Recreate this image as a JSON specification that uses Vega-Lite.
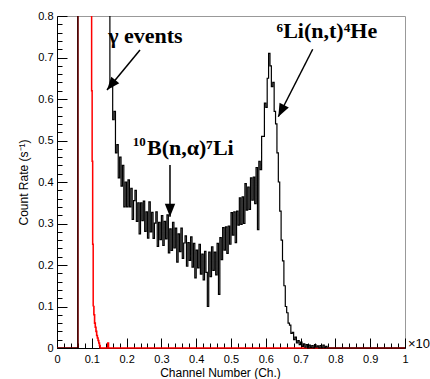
{
  "$schema": "https://vega.github.io/schema/vega-lite/v6.json",
  "width": 348,
  "height": 332,
  "autosize": {"type": "none"},
  "padding": {"left": 57, "top": 16, "right": 25, "bottom": 31},
  "background": "white",
  "view": {"stroke": "#999", "strokeWidth": 1},
  "config": {"font": "Liberation Sans"},
  "datasets": {
    "red": [
      {"ch": 0, "rate": 0}, {"ch": 0.06, "rate": 2}, {"ch": 0.0995, "rate": 0.62}, {"ch": 0.101, "rate": 0.45},
      {"ch": 0.1025, "rate": 0.25}, {"ch": 0.104, "rate": 0.1}, {"ch": 0.106, "rate": 0.08}, {"ch": 0.108, "rate": 0.06},
      {"ch": 0.11, "rate": 0.05}, {"ch": 0.112, "rate": 0.04}, {"ch": 0.114, "rate": 0.03}, {"ch": 0.116, "rate": 0.024},
      {"ch": 0.118, "rate": 0.018}, {"ch": 0.12, "rate": 0.012}, {"ch": 0.122, "rate": 0.006}, {"ch": 0.124, "rate": 0},
      {"ch": 0.146, "rate": 0.012}, {"ch": 0.148, "rate": 0}, {"ch": 1.0, "rate": 0}
    ],
    "black": [
      {"ch": 0, "rate": 0}, {"ch": 0.06, "rate": 2},
      {"ch": 0.152, "rate": 0.63}, {"ch": 0.156, "rate": 0.63}, {"ch": 0.16, "rate": 0.55}, {"ch": 0.164, "rate": 0.57},
      {"ch": 0.168, "rate": 0.47}, {"ch": 0.172, "rate": 0.49}, {"ch": 0.176, "rate": 0.41}, {"ch": 0.18, "rate": 0.46},
      {"ch": 0.184, "rate": 0.39}, {"ch": 0.188, "rate": 0.44}, {"ch": 0.192, "rate": 0.34}, {"ch": 0.196, "rate": 0.4},
      {"ch": 0.2, "rate": 0.34}, {"ch": 0.204, "rate": 0.405}, {"ch": 0.208, "rate": 0.34}, {"ch": 0.212, "rate": 0.385},
      {"ch": 0.216, "rate": 0.31}, {"ch": 0.22, "rate": 0.355}, {"ch": 0.224, "rate": 0.38}, {"ch": 0.228, "rate": 0.305},
      {"ch": 0.232, "rate": 0.35}, {"ch": 0.236, "rate": 0.275}, {"ch": 0.24, "rate": 0.35}, {"ch": 0.244, "rate": 0.307},
      {"ch": 0.248, "rate": 0.354}, {"ch": 0.252, "rate": 0.281}, {"ch": 0.256, "rate": 0.328}, {"ch": 0.26, "rate": 0.265},
      {"ch": 0.264, "rate": 0.352}, {"ch": 0.268, "rate": 0.28}, {"ch": 0.272, "rate": 0.327}, {"ch": 0.276, "rate": 0.264},
      {"ch": 0.28, "rate": 0.301}, {"ch": 0.284, "rate": 0.328}, {"ch": 0.288, "rate": 0.245}, {"ch": 0.292, "rate": 0.303},
      {"ch": 0.296, "rate": 0.261}, {"ch": 0.3, "rate": 0.319}, {"ch": 0.304, "rate": 0.247}, {"ch": 0.308, "rate": 0.305},
      {"ch": 0.312, "rate": 0.263}, {"ch": 0.316, "rate": 0.321}, {"ch": 0.32, "rate": 0.229}, {"ch": 0.324, "rate": 0.287},
      {"ch": 0.328, "rate": 0.235}, {"ch": 0.332, "rate": 0.303}, {"ch": 0.336, "rate": 0.241}, {"ch": 0.34, "rate": 0.289},
      {"ch": 0.344, "rate": 0.207}, {"ch": 0.348, "rate": 0.275}, {"ch": 0.352, "rate": 0.232}, {"ch": 0.356, "rate": 0.289},
      {"ch": 0.36, "rate": 0.216}, {"ch": 0.364, "rate": 0.253}, {"ch": 0.368, "rate": 0.27}, {"ch": 0.372, "rate": 0.197},
      {"ch": 0.376, "rate": 0.254}, {"ch": 0.38, "rate": 0.211}, {"ch": 0.384, "rate": 0.268}, {"ch": 0.388, "rate": 0.195},
      {"ch": 0.392, "rate": 0.252}, {"ch": 0.396, "rate": 0.169}, {"ch": 0.4, "rate": 0.236}, {"ch": 0.404, "rate": 0.193},
      {"ch": 0.408, "rate": 0.25}, {"ch": 0.412, "rate": 0.178}, {"ch": 0.416, "rate": 0.226}, {"ch": 0.42, "rate": 0.164},
      {"ch": 0.424, "rate": 0.233}, {"ch": 0.428, "rate": 0.182}, {"ch": 0.432, "rate": 0.1}, {"ch": 0.436, "rate": 0.231},
      {"ch": 0.44, "rate": 0.172}, {"ch": 0.444, "rate": 0.244}, {"ch": 0.448, "rate": 0.187}, {"ch": 0.452, "rate": 0.231},
      {"ch": 0.456, "rate": 0.176}, {"ch": 0.46, "rate": 0.252}, {"ch": 0.464, "rate": 0.129}, {"ch": 0.468, "rate": 0.266},
      {"ch": 0.472, "rate": 0.213}, {"ch": 0.476, "rate": 0.29}, {"ch": 0.48, "rate": 0.236}, {"ch": 0.484, "rate": 0.292},
      {"ch": 0.488, "rate": 0.228}, {"ch": 0.492, "rate": 0.294}, {"ch": 0.496, "rate": 0.25}, {"ch": 0.5, "rate": 0.326},
      {"ch": 0.504, "rate": 0.272}, {"ch": 0.508, "rate": 0.328}, {"ch": 0.512, "rate": 0.254}, {"ch": 0.516, "rate": 0.33},
      {"ch": 0.52, "rate": 0.296}, {"ch": 0.524, "rate": 0.362}, {"ch": 0.528, "rate": 0.298}, {"ch": 0.532, "rate": 0.364},
      {"ch": 0.536, "rate": 0.3}, {"ch": 0.54, "rate": 0.396}, {"ch": 0.544, "rate": 0.332}, {"ch": 0.548, "rate": 0.388},
      {"ch": 0.552, "rate": 0.334}, {"ch": 0.556, "rate": 0.41}, {"ch": 0.56, "rate": 0.356}, {"ch": 0.564, "rate": 0.412},
      {"ch": 0.568, "rate": 0.348}, {"ch": 0.572, "rate": 0.435}, {"ch": 0.576, "rate": 0.285}, {"ch": 0.58, "rate": 0.45},
      {"ch": 0.584, "rate": 0.43}, {"ch": 0.588, "rate": 0.51}, {"ch": 0.592, "rate": 0.51}, {"ch": 0.596, "rate": 0.59},
      {"ch": 0.6, "rate": 0.58}, {"ch": 0.604, "rate": 0.65}, {"ch": 0.608, "rate": 0.71}, {"ch": 0.612, "rate": 0.68},
      {"ch": 0.616, "rate": 0.63}, {"ch": 0.62, "rate": 0.64}, {"ch": 0.624, "rate": 0.57}, {"ch": 0.628, "rate": 0.54},
      {"ch": 0.632, "rate": 0.47}, {"ch": 0.636, "rate": 0.4}, {"ch": 0.64, "rate": 0.33}, {"ch": 0.644, "rate": 0.26},
      {"ch": 0.648, "rate": 0.21}, {"ch": 0.652, "rate": 0.15}, {"ch": 0.656, "rate": 0.1}, {"ch": 0.66, "rate": 0.085},
      {"ch": 0.664, "rate": 0.06}, {"ch": 0.668, "rate": 0.055}, {"ch": 0.672, "rate": 0.035}, {"ch": 0.676, "rate": 0.038},
      {"ch": 0.68, "rate": 0.02}, {"ch": 0.684, "rate": 0.026}, {"ch": 0.688, "rate": 0.012}, {"ch": 0.692, "rate": 0.018},
      {"ch": 0.696, "rate": 0.008}, {"ch": 0.7, "rate": 0.014}, {"ch": 0.704, "rate": 0.004}, {"ch": 0.708, "rate": 0.01},
      {"ch": 0.712, "rate": 0.002}, {"ch": 0.716, "rate": 0.008}, {"ch": 0.72, "rate": 0}, {"ch": 0.724, "rate": 0.007},
      {"ch": 0.728, "rate": 0.001}, {"ch": 0.732, "rate": 0.006}, {"ch": 0.736, "rate": 0}, {"ch": 0.74, "rate": 0.008},
      {"ch": 0.744, "rate": 0.002}, {"ch": 0.748, "rate": 0.005}, {"ch": 0.752, "rate": 0}, {"ch": 0.756, "rate": 0.006},
      {"ch": 0.76, "rate": 0}, {"ch": 0.764, "rate": 0.007}, {"ch": 0.768, "rate": 0}, {"ch": 0.772, "rate": 0.004},
      {"ch": 0.776, "rate": 0}, {"ch": 1.0, "rate": 0}
    ],
    "labels": [
      {"ch": 0.147, "rate": 0.735, "label": "γ events"},
      {"ch": 0.631, "rate": 0.747, "label": "⁶Li(n,t)⁴He"},
      {"ch": 0.2586, "rate": 0.465, "label": "B(n,α)⁷Li"}
    ],
    "sups": [
      {"ch": 0.218, "rate": 0.487, "label": "10"}
    ],
    "arrows": [
      {"ch": 0.2385, "rate": 0.718, "ch2": 0.1437, "rate2": 0.6217, "dir": 219.5},
      {"ch": 0.7348, "rate": 0.7198, "ch2": 0.6359, "rate2": 0.5573, "dir": 206.9},
      {"ch": 0.3247, "rate": 0.441, "ch2": 0.3247, "rate2": 0.3164, "dir": 180}
    ],
    "unit": [{"ch": 1.0, "rate": 0, "label": "×10³"}]
  },
  "encoding": {
    "x": {
      "field": "ch", "type": "quantitative",
      "scale": {"domain": [0, 1], "nice": false, "zero": false},
      "axis": {
        "title": "Channel Number (Ch.)",
        "zindex": 0,
        "values": [0,0.02,0.04,0.06,0.08,0.1,0.12,0.14,0.16,0.18,0.2,0.22,0.24,0.26,0.28,0.3,0.32,0.34,0.36,0.38,0.4,0.42,0.44,0.46,0.48,0.5,0.52,0.54,0.56,0.58,0.6,0.62,0.64,0.66,0.68,0.7,0.72,0.74,0.76,0.78,0.8,0.82,0.84,0.86,0.88,0.9,0.92,0.94,0.96,0.98,1],
        "labelExpr": "abs(datum.value*10 - round(datum.value*10)) < 0.001 ? format(datum.value, '~g') : ''",
        "tickSize": {"condition": {"test": "abs(datum.value*10 - round(datum.value*10)) < 0.001", "value": -10}, "value": -5},
        "tickColor": "#000", "tickWidth": 1,
        "domainColor": "#000", "domainWidth": 1,
        "grid": false,
        "labelOverlap": false, "labelFlush": false, "labelBound": false,
        "labelFontSize": 11, "labelColor": "#000", "labelPadding": 15,
        "titleFontSize": 12, "titleFontWeight": "normal", "titleColor": "#000",
        "titleX": 163, "titleY": 28, "titleAlign": "center", "titleBaseline": "alphabetic", "titleAnchor": null
      }
    },
    "y": {
      "field": "rate", "type": "quantitative",
      "scale": {"domain": [0, 0.8], "nice": false},
      "axis": {
        "title": "Count Rate (s⁻¹)",
        "zindex": 0,
        "values": [0,0.02,0.04,0.06,0.08,0.1,0.12,0.14,0.16,0.18,0.2,0.22,0.24,0.26,0.28,0.3,0.32,0.34,0.36,0.38,0.4,0.42,0.44,0.46,0.48,0.5,0.52,0.54,0.56,0.58,0.6,0.62,0.64,0.66,0.68,0.7,0.72,0.74,0.76,0.78,0.8],
        "labelExpr": "abs(datum.value*10 - round(datum.value*10)) < 0.001 ? format(datum.value, '~g') : ''",
        "tickSize": {"condition": {"test": "abs(datum.value*10 - round(datum.value*10)) < 0.001", "value": -10}, "value": -5},
        "tickColor": "#000", "tickWidth": 1,
        "domainColor": "#000", "domainWidth": 1,
        "grid": false,
        "labelOverlap": false, "labelFlush": false, "labelBound": false,
        "labelFontSize": 11, "labelColor": "#000", "labelPadding": 14,
        "titleFontSize": 12, "titleFontWeight": "normal", "titleColor": "#000",
        "titleX": -30, "titleY": 166, "titleAlign": "center", "titleBaseline": "alphabetic", "titleAnchor": null
      }
    }
  },
  "layer": [
    {"data": {"name": "red"}, "transform": [{"filter": "datum.ch <= 0.104"}],
     "mark": {"type": "line", "interpolate": "step-after", "color": "#ff0000", "strokeWidth": 1.5, "clip": true}},
    {"data": {"name": "red"}, "transform": [{"filter": "datum.ch >= 0.104"}],
     "mark": {"type": "line", "interpolate": "step-after", "color": "#ff0000", "strokeWidth": 1.6}},
    {"data": {"name": "black"}, "transform": [{"filter": "datum.ch <= 0.156"}],
     "mark": {"type": "line", "interpolate": "step-after", "color": "#000", "strokeWidth": 1.2, "clip": true}},
    {"data": {"name": "black"}, "transform": [{"filter": "datum.ch >= 0.152"}],
     "mark": {"type": "line", "interpolate": "step-after", "color": "#000", "strokeWidth": 1.2}},
    {"data": {"name": "arrows"}, "mark": {"type": "rule", "color": "#000", "strokeWidth": 1.5},
     "encoding": {"x2": {"field": "ch2"}, "y2": {"field": "rate2"}}},
    {"data": {"name": "arrows"}, "mark": {"type": "point", "shape": "M0,0L0.4,1L-0.4,1Z", "filled": true, "color": "#000", "size": 676, "opacity": 1},
     "encoding": {"x": {"field": "ch2", "type": "quantitative"}, "y": {"field": "rate2", "type": "quantitative"}, "angle": {"field": "dir", "type": "quantitative", "scale": null}}},
    {"data": {"name": "labels"}, "mark": {"type": "text", "align": "left", "baseline": "alphabetic", "font": "Liberation Serif", "fontWeight": "bold", "fontSize": 22, "color": "#000"},
     "encoding": {"text": {"field": "label"}}},
    {"data": {"name": "sups"}, "mark": {"type": "text", "align": "left", "baseline": "alphabetic", "font": "Liberation Serif", "fontWeight": "bold", "fontSize": 13, "color": "#000"},
     "encoding": {"text": {"field": "label"}}},
    {"data": {"name": "unit"}, "mark": {"type": "text", "align": "left", "baseline": "alphabetic", "dx": 3, "fontSize": 13, "color": "#000"},
     "encoding": {"text": {"field": "label"}}}
  ]
}
